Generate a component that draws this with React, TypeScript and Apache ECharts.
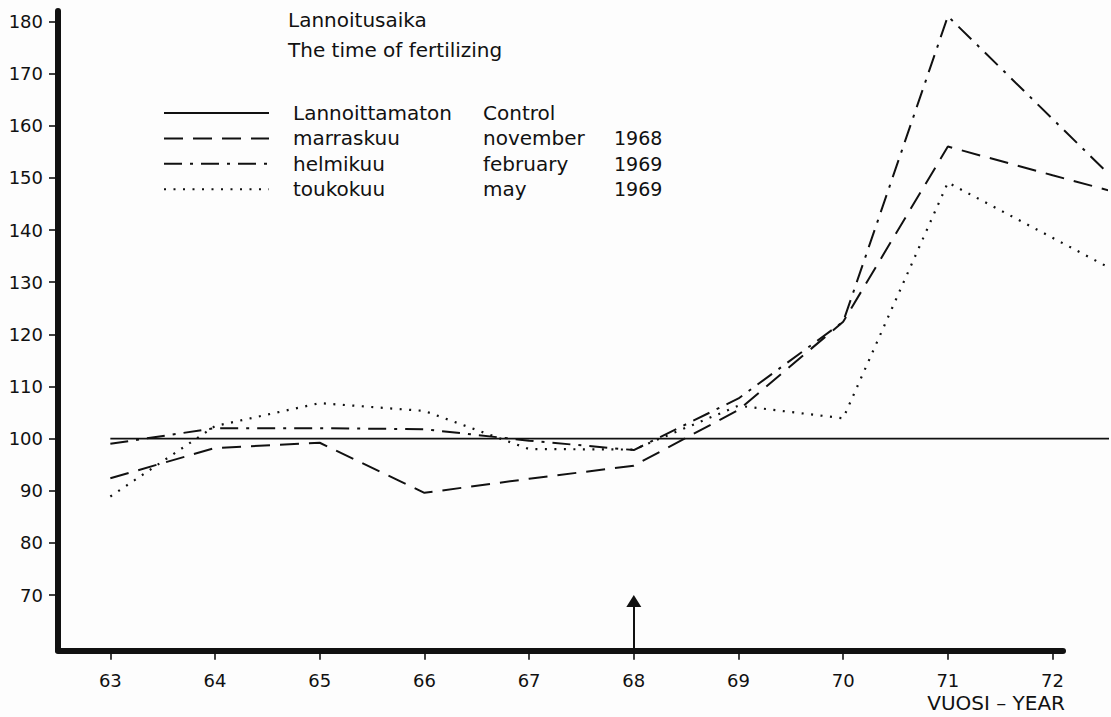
import React, { useEffect, useRef } from 'react';
import * as echarts from 'echarts';

// ---- data ----
const years = [63, 64, 65, 66, 67, 68, 69, 70, 71, 72, 73];
const control = [100, 100, 100, 100, 100, 100, 100, 100, 100, 100, 100];
const marraskuu = [92.4, 98.2, 99.2, 89.6, 92.3, 94.8, 105.5, 122.4, 156.0, 150.5, 145.1];
const helmikuu = [99.0, 102.0, 102.0, 101.8, 99.6, 97.8, 107.7, 122.4, 181.0, 161.3, 141.6];
const toukokuu = [88.9, 102.4, 106.8, 105.3, 98.0, 97.9, 106.3, 103.9, 149.1, 138.5, 127.9];

const seriesNames = ['Lannoittamaton', 'marraskuu', 'helmikuu', 'toukokuu'];
const englishNames = ['Control', 'november', 'february', 'may'];
const legendYears = ['', '1968', '1969', '1969'];

const yTicks = [70, 80, 90, 100, 110, 120, 130, 140, 150, 160, 170, 180];
const xTicks = [63, 64, 65, 66, 67, 68, 69, 70, 71, 72];

const arrowYear = 68;
const arrowTop = 68.85;

const titleText = 'Lannoitusaika';
const subtitleText = 'The time of fertilizing';
const xName = 'VUOSI \u2013 YEAR';

export default function App() {
  const ref = useRef<HTMLDivElement>(null);

  useEffect(() => {
    if (!ref.current) return;
    const chart = echarts.init(ref.current, null, { renderer: 'svg' });
    const FONT = '"DejaVu Sans", "Liberation Sans", Arial, sans-serif';
    const INK = '#111111';
    const X_MIN = 62.5;
    const X_MAX_SERIES = 72.52;
    const SERIES_W = 1049;
    const AXIS_W = 1005;
    const X_MAX_AXIS = X_MIN + (X_MAX_SERIES - X_MIN) * (AXIS_W / SERIES_W);
    const Y_MIN = 59.4;
    const Y_MAX = 182;
    const GRID_TOP = 11;
    const GRID_H = 639.3;

    const values = [control, marraskuu, helmikuu, toukokuu];
    const dashes: any[] = ['solid', [19, 10], [18, 8, 3, 8], [2, 7.5]];
    const widths = [1.8, 2, 2, 2.2];

    const series: any[] = seriesNames.map((name, i) => ({
      name,
      type: 'line',
      xAxisIndex: 0,
      yAxisIndex: 0,
      data: years.map((y, j) => [y, values[i][j]]),
      symbol: 'none',
      clip: true,
      silent: true,
      emphasis: { disabled: true },
      lineStyle: { color: INK, width: widths[i], type: dashes[i] },
      itemStyle: { color: INK },
      z: 3,
    }));

    series[0].markLine = {
      silent: true,
      symbol: ['none', 'triangle'],
      symbolSize: [15, 12],
      label: { show: false },
      emphasis: { disabled: true },
      lineStyle: { color: INK, width: 2, type: 'solid' },
      itemStyle: { color: INK },
      data: [[{ coord: [arrowYear, Y_MIN] }, { coord: [arrowYear, arrowTop] }]],
    };

    const rich = {
      s: { width: 19, fontFamily: FONT, fontSize: 20, lineHeight: 20 },
      a: { width: 190, fontFamily: FONT, fontSize: 20, lineHeight: 20, color: INK },
      b: { width: 131, fontFamily: FONT, fontSize: 20, lineHeight: 20, color: INK },
      c: { fontFamily: FONT, fontSize: 19, lineHeight: 20, color: INK },
    };

    const option: any = {
      animation: false,
      backgroundColor: '#fdfdfd',
      title: {
        text: titleText,
        subtext: subtitleText,
        left: 288,
        top: 10,
        padding: 0,
        itemGap: 10,
        textStyle: { fontFamily: FONT, fontSize: 20, fontWeight: 'normal', color: INK },
        subtextStyle: { fontFamily: FONT, fontSize: 20, color: INK },
      },
      legend: {
        data: seriesNames,
        orient: 'vertical',
        left: 163,
        top: 103,
        padding: 0,
        itemWidth: 105,
        itemHeight: 14,
        itemGap: 5.4,
        selectedMode: false,
        itemStyle: { opacity: 0, borderWidth: 0, color: 'transparent', borderColor: 'transparent' },
        formatter: (name: string) => {
          const i = seriesNames.indexOf(name);
          let s = `{s| }{a|${name}}{b|${englishNames[i]}}`;
          if (legendYears[i]) s += `{c|${legendYears[i]}}`;
          return s;
        },
        textStyle: { fontFamily: FONT, fontSize: 20, color: INK, rich },
      },
      grid: [
        { left: 58, top: GRID_TOP, width: SERIES_W, height: GRID_H },
        { left: 58, top: GRID_TOP, width: AXIS_W, height: GRID_H },
      ],
      xAxis: [
        { type: 'value', gridIndex: 0, min: X_MIN, max: X_MAX_SERIES, show: false },
        {
          type: 'value',
          gridIndex: 1,
          min: X_MIN,
          max: X_MAX_AXIS,
          axisLine: { show: true, onZero: false, lineStyle: { color: INK, width: 6 } },
          axisTick: { show: true, customValues: xTicks, length: 9.5, lineStyle: { color: INK, width: 1.6 } },
          axisLabel: { customValues: xTicks, margin: 21, color: INK, fontFamily: FONT, fontSize: 18 },
          splitLine: { show: false },
        },
      ],
      yAxis: [
        {
          type: 'value',
          gridIndex: 0,
          min: Y_MIN,
          max: Y_MAX,
          axisLine: { show: true, onZero: false, lineStyle: { color: INK, width: 6 } },
          axisTick: { show: true, customValues: yTicks, length: 9, lineStyle: { color: INK, width: 1.6 } },
          axisLabel: { customValues: yTicks, margin: 15, color: INK, fontFamily: FONT, fontSize: 18 },
          splitLine: { show: false },
        },
        { type: 'value', gridIndex: 1, min: Y_MIN, max: Y_MAX, show: false },
      ],
      graphic: [
        {
          type: 'text',
          right: 46,
          top: 693,
          style: { text: xName, fontFamily: FONT, fontSize: 20, fill: INK },
        },
      ],
      series,
    };

    chart.setOption(option);
    return () => chart.dispose();
  }, []);

  return (
    <div
      ref={ref}
      style={{ position: 'absolute', left: 0, top: 0, width: 1111, height: 717 }}
    />
  );
}
